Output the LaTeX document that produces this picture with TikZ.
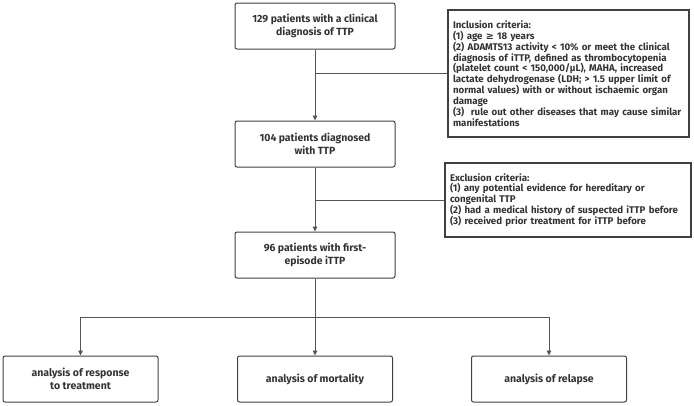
\documentclass[tikz,border=0pt]{standalone}
\usepackage{fontspec}
\setmainfont{Fira Sans}
\newfontfamily\symfont{DejaVu Sans}
\usetikzlibrary{arrows.meta}
\definecolor{edge}{HTML}{555555}
\definecolor{boxline}{HTML}{404040}
\definecolor{txt}{HTML}{333333}
\begin{document}
\begin{tikzpicture}[x=1pt,y=-1pt,
 mainbox/.style={draw=boxline, line width=1pt, rounded corners=2pt, minimum width=160pt, minimum height=46pt, align=center, font=\bfseries\fontsize{10.4}{13}\selectfont, text=txt, inner sep=0pt},
 critbox/.style={draw=boxline, line width=1.2pt, align=left, font=\bfseries\fontsize{9.7}{10.9}\selectfont, text=txt, inner xsep=5pt, inner ysep=0pt},
 endbox/.style={mainbox, minimum width=155pt, font=\bfseries\fontsize{10.5}{13}\selectfont},
 conn/.style={draw=edge, line width=0.8pt},
 arr/.style={conn, -{Triangle[length=5pt,width=4.5pt]}}]
\useasboundingbox (0,0) rectangle (694,405);

\node[mainbox] (b1) at (315,26) {129 patients with a clinical\\diagnosis of TTP};
\node[mainbox] (b2) at (315,144) {104 patients diagnosed\\with TTP};
\node[mainbox] (b3) at (315,255) {96 patients with first-\\episode iTTP};

\node[critbox, minimum width=241pt, minimum height=127pt, text width=231pt] (inc) at (568.5,73.5)
 {Inclusion criteria:\\
 (1) age {\symfont\bfseries ≥} 18 years\\
 (2) ADAMTS13 activity < 10\% or meet the clinical\\
 diagnosis of iTTP, defined as thrombocytopenia\\
 (platelet count < 150,000/µL), MAHA, increased\\
 lactate dehydrogenase (LDH; > 1.5 upper limit of\\
 normal values) with or without ischaemic organ\\
 damage\\
 (3)\ \ rule out other diseases that may cause similar\\
 manifestations};

\node[critbox, minimum width=246pt, minimum height=74pt, text width=236pt] (exc) at (568,200)
 {Exclusion criteria:\\
 (1) any potential evidence for hereditary or\\
 congenital TTP\\
 (2) had a medical history of suspected iTTP before\\
 (3) received prior treatment for iTTP before};

\node[endbox] (l) at (80.5,379) {analysis of response\\to treatment};
\node[endbox] (m) at (315,379) {analysis of mortality};
\node[endbox] (r) at (549,379) {analysis of relapse};

\draw[arr] (b1) -- (b2);
\draw[conn] (b1.south |- inc.west) -- (inc.west);
\draw[arr] (b2) -- (b3);
\draw[conn] (b2.south |- exc.west) -- (exc.west);
\draw[arr] (b3) -- (m);
\coordinate (br) at (315,317);
\draw[conn] (br -| l.north) -- (br -| r.north);
\draw[arr] (br -| l.north) -- (l.north);
\draw[arr] (br -| r.north) -- (r.north);
\end{tikzpicture}
\end{document}
